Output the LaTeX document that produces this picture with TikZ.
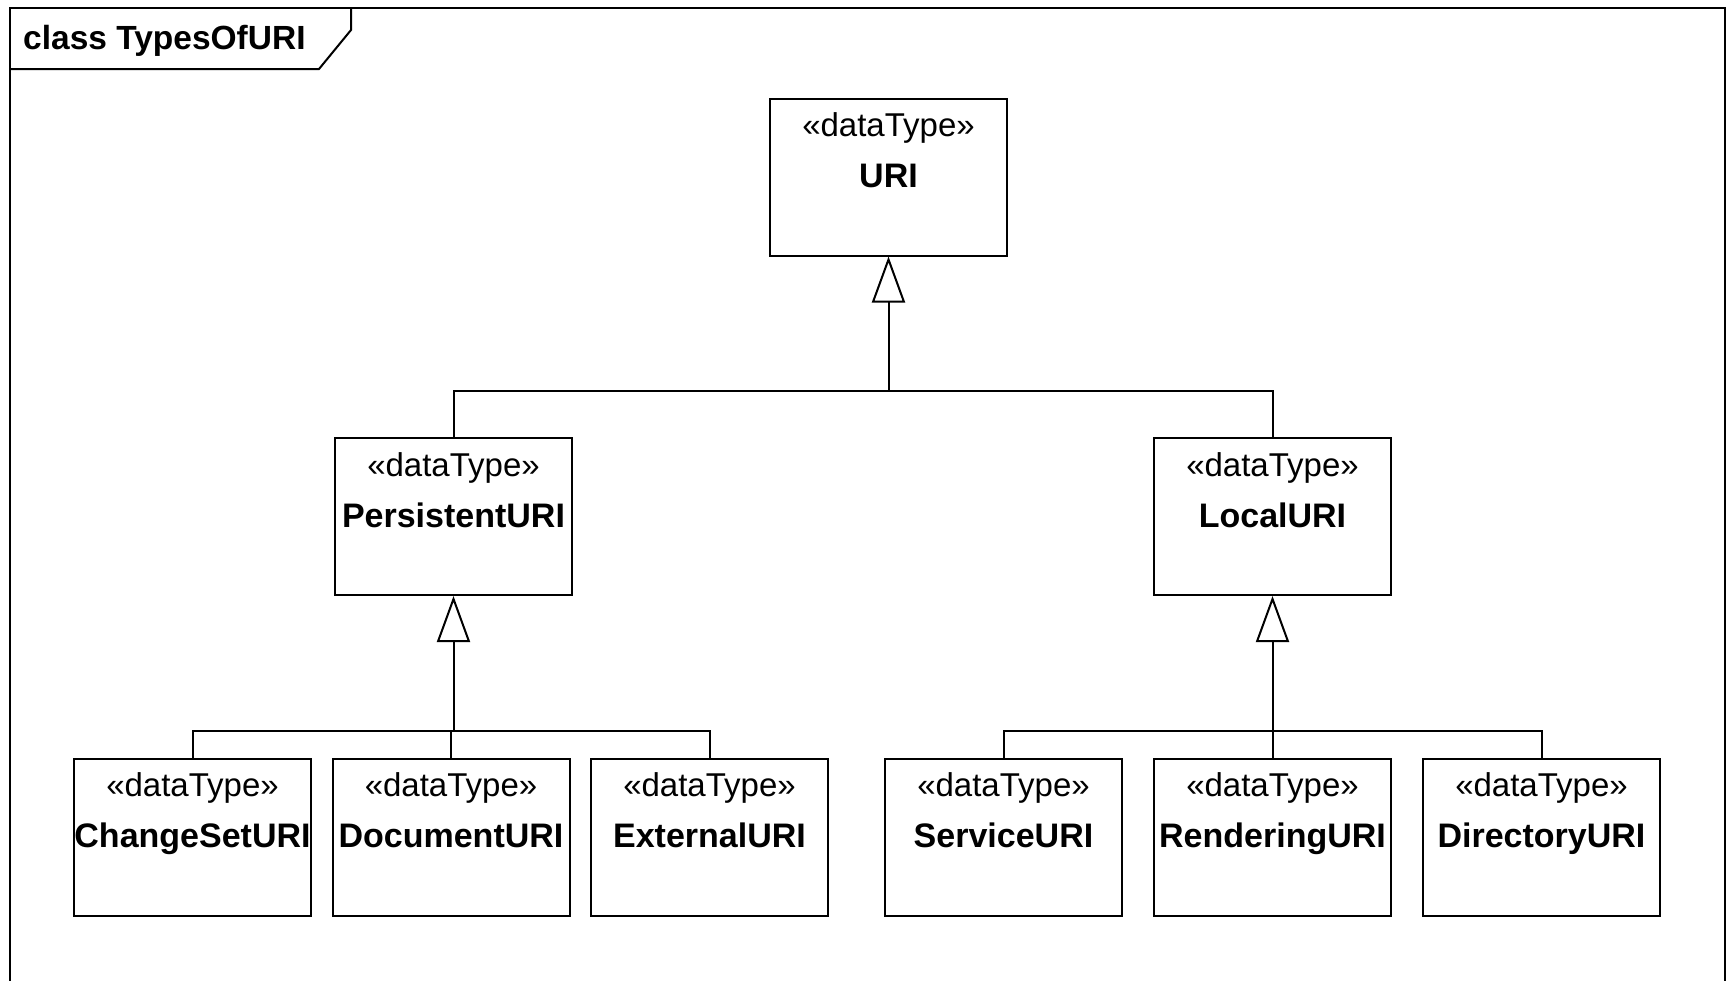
\documentclass[tikz,border=0pt]{standalone}
\usepackage{fontspec}
\setmainfont{Liberation Sans}
\usetikzlibrary{arrows.meta}

% One UML data type box: name, position, class name
\newcommand\dtclass[3]{%
  \node[cls] (#1) at (#2) {};
  \node[stereo] (#1-st) at ([yshift=-39pt]#1.north) {«dataType»};
  \node[cname] (#1-nm) at ([yshift=-90pt]#1.north) {#3};
}

\begin{document}
\begin{tikzpicture}[x=1pt,y=-1pt,
  link/.style={line width=2pt, line join=miter},
  cls/.style={draw, line width=2pt, minimum width=237pt, minimum height=157pt, inner sep=0pt},
  stereo/.style={anchor=base, inner sep=0pt, font=\fontsize{33}{40}\selectfont},
  cname/.style={anchor=base, inner sep=0pt, font=\fontsize{34}{41}\selectfont\bfseries},
  frametitle/.style={anchor=base west, inner sep=0pt, font=\fontsize{33.5}{40}\selectfont\bfseries},
  gen/.style={line width=2pt, -{Triangle[open, length=46pt, width=33pt]}}
]
\useasboundingbox (0,0) rectangle (1729,980);

% diagram frame and its name tab
\draw[link] (10,1000) -- (10,8) -- (1725,8) -- (1725,1000);
\draw[link] (10,69) -- (319,69) -- (351,30) -- (351,8);
\node[frametitle] (title) at (23,49) {class TypesOfURI};

% classes
\dtclass{uri}{888.5,177}{URI}
\dtclass{persist}{453.5,516.5}{PersistentURI}
\dtclass{local}{1272.5,516.5}{LocalURI}
\dtclass{changeset}{192.5,837}{ChangeSetURI}
\dtclass{document}{451,837}{DocumentURI}
\dtclass{external}{709.5,837}{ExternalURI}
\dtclass{service}{1003.5,837}{ServiceURI}
\dtclass{rendering}{1272.5,837}{RenderingURI}
\dtclass{directory}{1541.5,837}{DirectoryURI}

% levels of the generalization trees
\path (0,391) coordinate (lvl0) (0,731) coordinate (lvl1);
\coordinate (j0) at (uri.south |- lvl0);
\coordinate (j1) at (persist.south |- lvl1);
\coordinate (j2) at (local.south |- lvl1);

% URI generalization
\draw[link] (persist.north) |- (j0);
\draw[link] (local.north) |- (j0);
\draw[gen] (j0) -- (uri.south);

% PersistentURI generalization
\draw[link] (changeset.north) |- (j1);
\draw[link] (document.north) |- (j1);
\draw[link] (external.north) |- (j1);
\draw[gen] (j1) -- (persist.south);

% LocalURI generalization
\draw[link] (service.north) |- (j2);
\draw[link] (rendering.north) |- (j2);
\draw[link] (directory.north) |- (j2);
\draw[gen] (j2) -- (local.south);
\end{tikzpicture}
\end{document}
